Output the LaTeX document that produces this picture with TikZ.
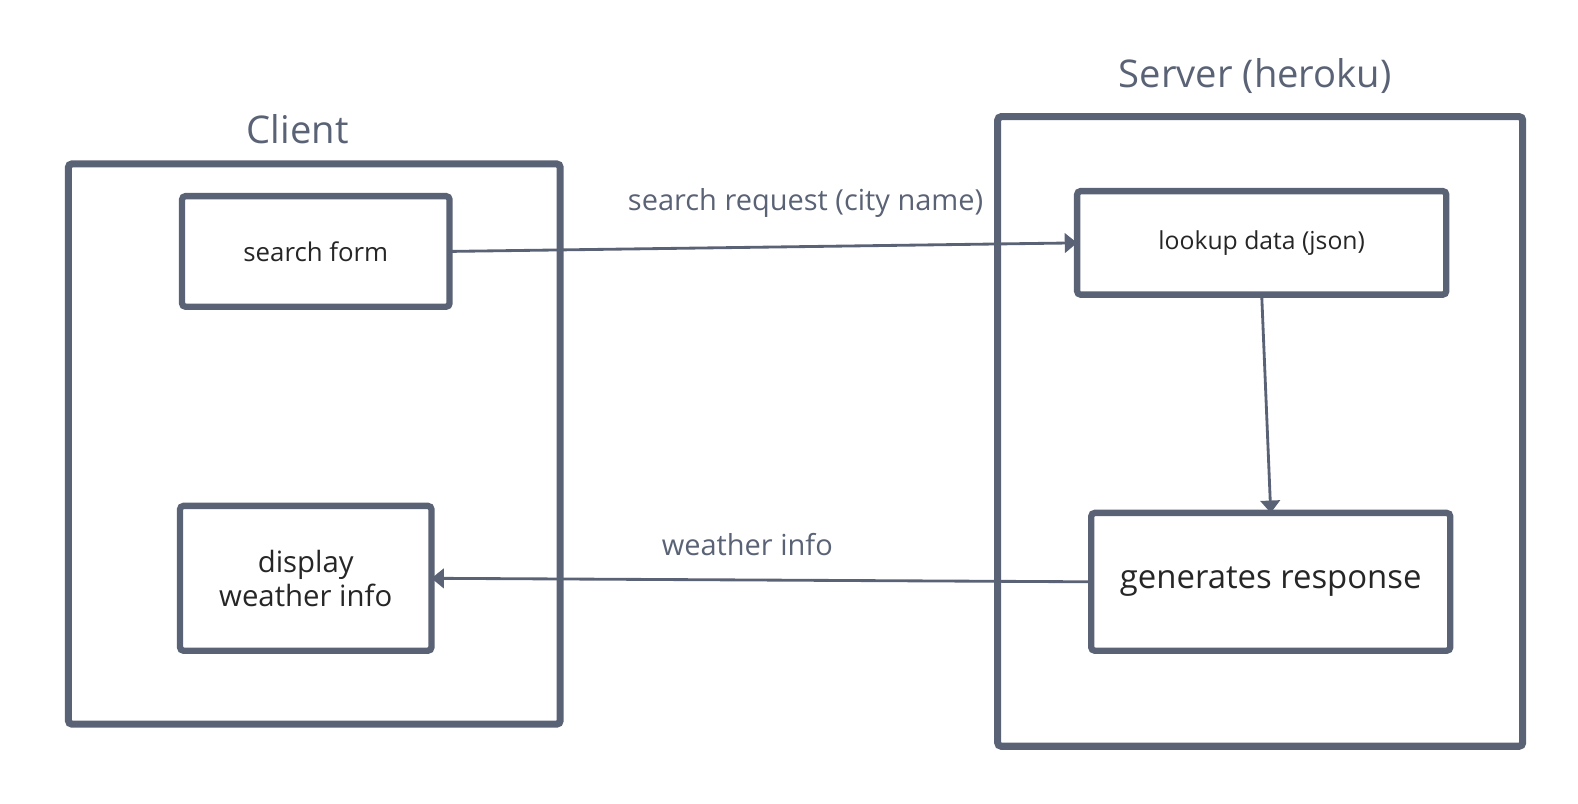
\documentclass[tikz,border=0pt]{standalone}
\usepackage{fontspec}
\setmainfont{Open Sans}
\usetikzlibrary{arrows.meta}
\definecolor{slate}{HTML}{5A6275}
\definecolor{ink}{HTML}{262626}
\begin{document}
\begin{tikzpicture}[every node/.style={inner sep=0pt, outer sep=0pt}, frame/.style={draw=slate, line width=2pt, rounded corners=1pt}, box/.style={draw=slate, line width=1.8pt, rounded corners=1pt, text=ink, align=center}, title/.style={text=slate, font=\fontsize{10.8}{13}\selectfont}, msg/.style={text=slate, font=\fontsize{8.2}{10}\selectfont}, flow/.style={draw=slate, line width=0.8pt, -{Triangle[width=5.5pt,length=3.5pt]}}]
\useasboundingbox (0,0.05) rectangle (15.69,8.04);
\node[frame, minimum width=4.89cm, minimum height=5.57cm] (client) at (3.125,3.625) {};
\node[frame, minimum width=5.22cm, minimum height=6.26cm] (server) at (12.53,3.75) {};
\node[title] (clientT) at (2.96,6.76) {Client};
\node[title] (serverT) at (12.48,7.28) {Server (heroku)};
\node[box, minimum width=2.66cm, minimum height=1.10cm, font=\fontsize{7.3}{9}\selectfont] (form) at (3.14,5.54) {search form};
\node[box, minimum width=2.50cm, minimum height=1.44cm, font=\fontsize{8.3}{9.6}\selectfont] (show) at (3.04,2.29) {display\\weather info};
\node[box, minimum width=3.67cm, minimum height=1.03cm, font=\fontsize{7}{9}\selectfont] (lookup) at (12.545,5.625) {lookup data (json)};
\node[box, minimum width=3.57cm, minimum height=1.37cm, font=\fontsize{9.3}{11}\selectfont] (resp) at (12.635,2.255) {generates response};
\draw[flow] (form.east) -- (lookup.west);
\draw[flow] (lookup.south) -- (resp.north);
\draw[flow] (resp.west) -- (show.east);
\node[msg] (reqL) at (8.01,6.02) {search request (city name)};
\node[msg] (infoL) at (7.43,2.63) {weather info};
\end{tikzpicture}
\end{document}
